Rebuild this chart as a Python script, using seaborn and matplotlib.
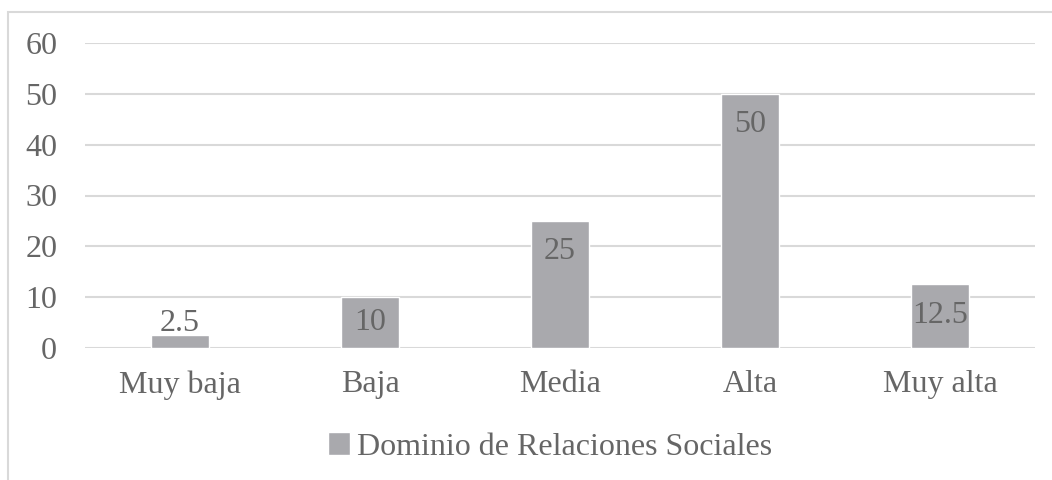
import pandas as pd
import seaborn as sns
import matplotlib.pyplot as plt
from matplotlib.patches import Rectangle, Patch

# Datos del gráfico
categorias = ['Muy baja', 'Baja', 'Media', 'Alta', 'Muy alta']
valores = [2.5, 10, 25, 50, 12.5]
serie = 'Dominio de Relaciones Sociales'
yticks = [0, 10, 20, 30, 40, 50, 60]

df = pd.DataFrame({'categoria': categorias, 'valor': valores})

sns.set_theme(style='white')
plt.rcParams['font.family'] = ['Liberation Serif', 'DejaVu Serif']

texto = '#666666'
gris_barra = '#a9a9ad'
gris_linea = '#d9d9d9'
fs = 23

fig = plt.figure(figsize=(10.52, 4.8), dpi=100)
ax = fig.add_axes([85 / 1052, 1 - 348 / 480, 950 / 1052, 305 / 480])

sns.barplot(data=df, x='categoria', y='valor', color=gris_barra,
            width=0.31, saturation=1, ax=ax, zorder=3)

ax.set_ylim(0, 60)
ax.set_yticks(yticks)
ax.yaxis.grid(True, color=gris_linea, linewidth=1.5, zorder=0)
ax.set_axisbelow(True)
for s in ax.spines.values():
    s.set_visible(False)
ax.set_xlabel('')
ax.set_ylabel('')
ax.tick_params(axis='both', length=0, labelsize=fs, labelcolor=texto)
ax.tick_params(axis='y', pad=20)
ax.tick_params(axis='x', pad=16)

# Etiquetas de datos
for i, v in enumerate(valores):
    etiqueta = f'{v:g}'
    if v < 5:
        ax.annotate(etiqueta, (i, v), xytext=(0, 12), textcoords='offset pixels',
                    ha='center', va='center', fontsize=fs, color=texto)
    else:
        y = max(v - 6.1, v / 2)
        ax.text(i, y, etiqueta, ha='center', va='center', fontsize=fs, color=texto)

# Leyenda
fig.legend(handles=[Patch(facecolor=gris_barra, label=serie)],
           loc='center', bbox_to_anchor=(550 / 1052, 1 - 447 / 480),
           frameon=False, fontsize=fs, labelcolor=texto,
           handlelength=0.7, handleheight=0.7, handletextpad=0.2)

# Marco del gráfico
fig.patches.append(Rectangle((8 / 1052, -0.05), 1.1, 1 - 12 / 480 + 0.05,
                             transform=fig.transFigure, fill=False,
                             edgecolor=gris_linea, linewidth=1.5))

fig.savefig('out.png', dpi=100)
